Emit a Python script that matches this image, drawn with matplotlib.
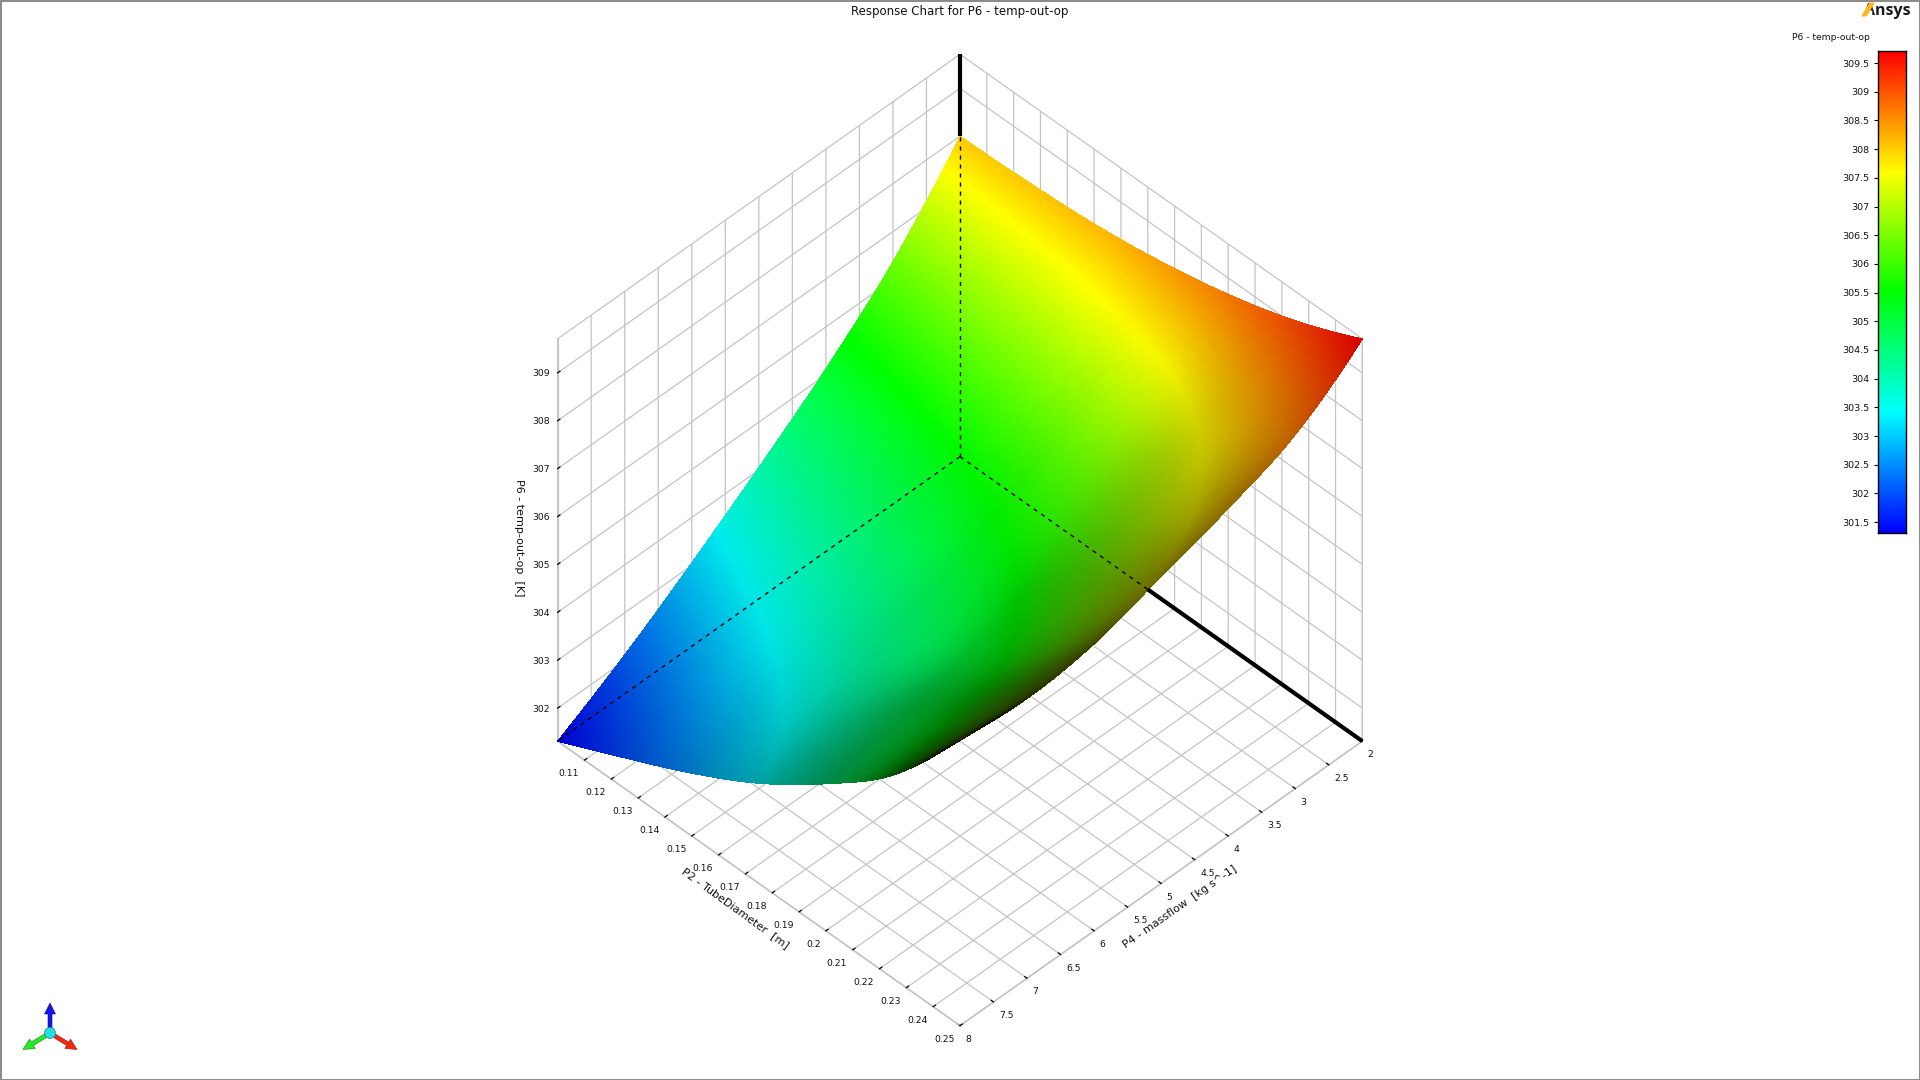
import numpy as np
import matplotlib
matplotlib.use("Agg")
import matplotlib.pyplot as plt
from matplotlib.colors import LinearSegmentedColormap, Normalize
from matplotlib.patches import FancyArrow, Circle, Polygon

# ---- data ----
massflow = [2, 3, 4, 5, 6, 7, 8]
diameter = [0.10, 0.125, 0.15, 0.175, 0.20, 0.225, 0.25]
temp_m2 = [308.0, 308.05, 308.15, 308.35, 308.66, 309.1, 309.71]
temp_m3 = [306.37, 306.55, 306.72, 306.95, 307.3, 307.95, 308.7]
temp_m4 = [305.12, 305.33, 305.58, 305.9, 306.35, 307.15, 308.15]
temp_m5 = [304.05, 304.4, 304.75, 305.1, 305.6, 306.5, 307.72]
temp_m6 = [303.05, 303.5, 303.95, 304.45, 305.0, 305.9, 307.3]
temp_m7 = [302.12, 302.65, 303.2, 303.85, 304.7, 305.7, 307.15]
temp_m8 = [301.31, 301.95, 302.62, 303.4, 304.38, 305.55, 307.3]
mass_ticks = [2, 2.5, 3, 3.5, 4, 4.5, 5, 5.5, 6, 6.5, 7, 7.5, 8]
mass_tick_labels = ["2", "2.5", "3", "3.5", "4", "4.5", "5", "5.5", "6", "6.5", "7", "7.5", "8"]
dia_ticks = [0.11, 0.12, 0.13, 0.14, 0.15, 0.16, 0.17, 0.18, 0.19, 0.20, 0.21, 0.22, 0.23, 0.24, 0.25]
dia_tick_labels = ["0.11", "0.12", "0.13", "0.14", "0.15", "0.16", "0.17", "0.18", "0.19", "0.2",
                    "0.21", "0.22", "0.23", "0.24", "0.25"]
temp_ticks = [302, 303, 304, 305, 306, 307, 308, 309]
cbar_ticks = [301.5, 302, 302.5, 303, 303.5, 304, 304.5, 305, 305.5, 306, 306.5, 307, 307.5,
              308, 308.5, 309, 309.5]
cbar_labels = ["301.5", "302", "302.5", "303", "303.5", "304", "304.5", "305", "305.5", "306",
               "306.5", "307", "307.5", "308", "308.5", "309", "309.5"]
mass_lim = (2, 8)
dia_lim = (0.10, 0.25)
temp_lim = (301.31, 309.71)
hidden_dia = 0.17
back_temp = 308.0

GRID = "#c4c4c4"
plt.rcParams["font.family"] = "DejaVu Sans"
plt.rcParams["grid.color"] = GRID
plt.rcParams["grid.linewidth"] = 0.9
plt.rcParams["axes3d.grid"] = True

fig = plt.figure(figsize=(19.2, 10.8), dpi=100, facecolor="white", edgecolor="#8c8c8c", linewidth=2)

cmap = LinearSegmentedColormap.from_list("resp", ["#0000ff", "#00ffff", "#00ff00", "#ffff00", "#ff0000"])
norm = Normalize(*temp_lim)


def refine(a, axis, n):
    """Smooth mesh refinement of a table along an axis (cubic Hermite)."""
    a = np.moveaxis(np.asarray(a, float), axis, 0)
    N = a.shape[0]
    t = np.linspace(0, N - 1, (N - 1) * n + 1)
    i = np.clip(np.floor(t).astype(int), 0, N - 2)
    s = t - i
    g = np.gradient(a, axis=0, edge_order=2)
    sh = (-1,) + (1,) * (a.ndim - 1)
    s = s.reshape(sh)
    out = ((2*s**3 - 3*s**2 + 1) * a[i] + (s**3 - 2*s**2 + s) * g[i]
           + (-2*s**3 + 3*s**2) * a[i + 1] + (s**3 - s**2) * g[i + 1])
    return np.moveaxis(out, 0, axis)


table = np.array([temp_m2, temp_m3, temp_m4, temp_m5, temp_m6, temp_m7, temp_m8])
N_SUB = 30
T = refine(refine(table, 0, N_SUB), 1, N_SUB)
M = refine(np.array(massflow, float), 0, N_SUB)
D = refine(np.array(diameter, float), 0, N_SUB)
MM, DD = np.meshgrid(M, D, indexing="ij")

ELEV, AZIM = 45.0, 45.0
S = 1000.0
cx, cy = 960.0, 540.0
frac = 0.95 / 1.85
ax = fig.add_axes([(cx - frac * S) / 1920, (cy - frac * S) / 1080, S / 1920, S / 1080],
                  projection="3d", proj_type="ortho", computed_zorder=False)
ax.view_init(elev=ELEV, azim=AZIM)
side_px = 569.0
base = 1.8294640721620434 * 25 / 24 / np.sqrt(3)
world_side = side_px * 1.85 / S
ax.set_box_aspect((1, 1, 1), zoom=world_side / base)
ax.set_xlim(*mass_lim, view_margin=0)
ax.set_ylim(*dia_lim, view_margin=0)
ax.set_zlim(*temp_lim, view_margin=0)
ax.patch.set_alpha(0)

# lighting: head-light shading from the surface normal in box coordinates
dx = (M[1] - M[0]) / (mass_lim[1] - mass_lim[0])
dy = (D[1] - D[0]) / (dia_lim[1] - dia_lim[0])
Z = (T - temp_lim[0]) / (temp_lim[1] - temp_lim[0])
Zx, Zy = np.gradient(Z, dx, dy)
el, az = np.radians(ELEV), np.radians(AZIM)
view = np.array([np.cos(el) * np.cos(az), np.cos(el) * np.sin(az), np.sin(el)])
cosang = (-Zx * view[0] - Zy * view[1] + view[2]) / np.sqrt(Zx**2 + Zy**2 + 1)
bright = np.clip(np.abs(cosang) * 1.25, 0, 1) ** 0.75
colors = cmap(norm(T))
colors[..., :3] *= bright[..., None]
ax.plot_surface(MM, DD, T, facecolors=colors, rstride=1, cstride=1, shade=False,
                antialiased=False, linewidth=0, zorder=1)

# highlighted box edges
ax.plot([mass_lim[0]] * 2, [dia_lim[0]] * 2, [back_temp, temp_lim[1]], color="k", lw=3.0, zorder=3,
        solid_capstyle="butt")
ax.plot([mass_lim[0]] * 2, [hidden_dia, dia_lim[1]], [temp_lim[0]] * 2, color="k", lw=3.0, zorder=3,
        solid_capstyle="butt")
dash = dict(color="k", lw=1.0, zorder=4, dashes=(3, 3.5))
ax.plot([mass_lim[0]] * 2, [dia_lim[0]] * 2, [temp_lim[0], back_temp], **dash)
ax.plot([mass_lim[0]] * 2, [dia_lim[0], hidden_dia], [temp_lim[0]] * 2, **dash)
ax.plot(list(mass_lim), [dia_lim[0]] * 2, [temp_lim[0]] * 2, **dash)

# axes
ax.set_xticks(mass_ticks, mass_tick_labels, fontsize=6.7, ha="left", va="top")
ax.set_yticks(dia_ticks, dia_tick_labels, fontsize=6.7, ha="right")
ax.set_zticks(temp_ticks, [str(t) for t in temp_ticks], fontsize=6.7, ha="right", va="center_baseline")
for a, p in ((ax.xaxis, -3), (ax.yaxis, -3), (ax.zaxis, -4.5)):
    a.set_pane_color((1, 1, 1, 1))
    a.pane.set_edgecolor(GRID)
    a.pane.set_linewidth(0.9)
    a.line.set_color(GRID)
    a.line.set_linewidth(0.9)
    a.set_tick_params(pad=p, colors="k", labelcolor="#111111")
    a._axinfo["tick"]["inward_factor"] = 0.0
    a._axinfo["tick"]["outward_factor"] = 0.07
    a._axinfo["tick"]["linewidth"] = {True: 0.9, False: 0.9}
    a._axinfo["grid"]["color"] = GRID
    a._axinfo["grid"]["linewidth"] = 0.9

# title
fig.text(960 / 1920, 1 - 11 / 1080, "Response Chart for P6 - temp-out-op", ha="center", va="center",
         fontsize=8.45, color="#111111")

# colour bar
cax = fig.add_axes([1878 / 1920, (1080 - 533) / 1080, 28 / 1920, 482 / 1080])
grad = np.linspace(temp_lim[0], temp_lim[1], 256).reshape(-1, 1)
cax.imshow(grad, origin="lower", aspect="auto", cmap=cmap, norm=norm,
           extent=(0, 1, temp_lim[0], temp_lim[1]))
cax.set_xticks([])
cax.yaxis.tick_left()
cax.set_yticks(cbar_ticks, cbar_labels, fontsize=6.8)
cax.tick_params(axis="y", length=3, width=0.8, pad=3, labelcolor="#111111")
for sp in cax.spines.values():
    sp.set_linewidth(1.0)
fig.text(1870 / 1920, 1 - 37 / 1080, "P6 - temp-out-op", ha="right", va="center", fontsize=6.6, color="#111111")

# overlay in pixel units: axis titles, triad and logo
ov = fig.add_axes([0, 0, 1, 1], zorder=10)
ov.set_xlim(0, 1920)
ov.set_ylim(1080, 0)
ov.axis("off")
ov.patch.set_alpha(0)
title_kw = dict(fontsize=8, color="#111111", ha="center", va="center", rotation_mode="anchor")
ov.text(735, 908, "P2 - TubeDiameter  [m]", rotation=-36, **title_kw)
ov.text(1180, 907, "P4 - massflow  [kg s^-1]", rotation=35, **title_kw)
ov.text(519, 538, "P6 - temp-out-op  [K]", rotation=-90, **title_kw)
ov.text(1887, 11, "Ansys", fontsize=11.5, fontweight="bold", family="Open Sans", color="#1a1a1a",
        ha="center", va="center")
ov.add_patch(Polygon([[1867, 10.5], [1872, 10.5], [1872.5, 13.5], [1866, 13.5]], closed=True, facecolor="white",
                     edgecolor="none", zorder=4))
ov.add_patch(Polygon([[1861, 16.5], [1866.5, 16.5], [1875, 2.5], [1869.5, 2.5]], closed=True, facecolor="#ffb71b",
                     edgecolor="none", zorder=5))
arrow = dict(length_includes_head=True, width=4, head_width=11, head_length=11, linewidth=0.4)
ov.add_patch(FancyArrow(50, 1033, 0, -30, facecolor="#1414e6", edgecolor="#0a0a80", **arrow))
ov.add_patch(FancyArrow(50, 1033, -27, 16.5, facecolor="#22ee22", edgecolor="#108010", **arrow))
ov.add_patch(FancyArrow(50, 1033, 27, 16.5, facecolor="#f02a10", edgecolor="#902010", **arrow))
ov.add_patch(Circle((50, 1033), 5.5, facecolor="#22e0e0", edgecolor="#109090", linewidth=0.5))

fig.savefig("out.png", dpi=100, facecolor="white", edgecolor=fig.get_edgecolor())
